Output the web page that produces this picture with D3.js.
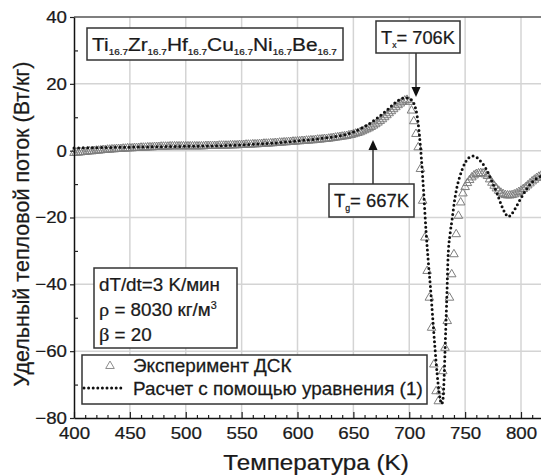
<!DOCTYPE html>
<html>
<head>
<meta charset="utf-8">
<script src="https://cdn.jsdelivr.net/npm/d3@7"></script>
<style>
  body { margin: 0; background: #fff; }
  svg { display: block; }
  text { font-family: "Liberation Sans", Arial, sans-serif; fill: #1a1a1a; stroke: #1a1a1a; stroke-width: 0.25px; }
</style>
</head>
<body>
<svg id="chart" width="541" height="475"></svg>
<script>
// Axis ticks
const xTicks = [400, 450, 500, 550, 600, 650, 700, 750, 800];
const xMinorTicks = d3.range(410, 820, 10).filter(t => t % 50 !== 0);
const yTicks = [-80, -60, -40, -20, 0, 20, 40];
const yMinorTicks = [-70, -50, -30, -10, 10, 30];

// DSC experiment: one reading every 2 K from 400 K
const expTemps = d3.range(400, 820, 2);
const expValues = [
  // 400 - 448
  -0.7, -0.6, -0.6, -0.5, -0.4, -0.4, -0.3, -0.2, -0.2, -0.1, 0.0, 0.0, 0.1,
  0.2, 0.2, 0.3, 0.3, 0.4, 0.4, 0.5, 0.5, 0.5, 0.6, 0.6, 0.7,
  // 450 - 498
  0.7, 0.7, 0.8, 0.8, 0.8, 0.9, 0.9, 0.9, 1.0, 1.0, 1.0, 1.1, 1.1,
  1.1, 1.2, 1.2, 1.2, 1.2, 1.3, 1.3, 1.3, 1.3, 1.3, 1.3, 1.3,
  // 500 - 548
  1.3, 1.3, 1.3, 1.3, 1.3, 1.3, 1.3, 1.3, 1.3, 1.4, 1.4, 1.4, 1.4,
  1.4, 1.4, 1.5, 1.5, 1.5, 1.5, 1.5, 1.6, 1.6, 1.6, 1.6, 1.7,
  // 550 - 598
  1.7, 1.7, 1.8, 1.8, 1.8, 1.9, 1.9, 1.9, 2.0, 2.0, 2.1, 2.1, 2.1,
  2.2, 2.2, 2.3, 2.3, 2.4, 2.4, 2.5, 2.5, 2.6, 2.6, 2.7, 2.7,
  // 600 - 648
  2.8, 2.8, 2.9, 2.9, 3.0, 3.0, 3.1, 3.1, 3.2, 3.3, 3.3, 3.4, 3.5,
  3.5, 3.6, 3.7, 3.8, 3.9, 4.0, 4.1, 4.2, 4.3, 4.4, 4.6, 4.7,
  // 650 - 698
  4.9, 5.1, 5.3, 5.5, 5.8, 6.1, 6.4, 6.7, 7.1, 7.5, 7.9, 8.4, 8.9,
  9.4, 10.0, 10.6, 11.2, 11.8, 12.4, 13.0, 13.6, 14.1, 14.6, 15.0, 15.2,
  // 700 - 748
  14.6, 12.0, 8.8, 5.0, 1.0, -5.5, -15.0, -26.0, -36.0, -44.0, -53.0, -64.0, -72.0,
  -75.0, -72.0, -66.0, -59.0, -51.0, -44.0, -37.0, -31.0, -25.0, -19.5, -15.5, -12.8,
  // 750 - 798
  -10.9, -9.7, -8.8, -8.0, -7.4, -7.0, -6.8, -6.7, -6.8, -7.1, -7.6, -8.6, -9.6,
  -10.5, -11.3, -12.0, -12.6, -13.0, -13.3, -13.4, -13.4, -13.3, -13.1, -12.8, -12.4,
  // 800 - 818
  -12.0, -11.5, -11.0, -10.4, -9.8, -9.2, -8.7, -8.2, -7.8, -7.5
];

// Model curve, equation (1)
const calcTemps = [
  400, 420, 440, 460, 480, 500, 520, 540, 560, 580,
  600, 620, 640, 650, 660, 670, 680, 687, 692, 696,
  700, 703, 705, 707, 709, 711, 713, 715, 717, 719,
  721, 723, 725, 727, 729, 730.3, 731.2, 732, 733, 733.8,
  734.7, 736.5, 738.3, 740.5, 742.7, 745, 747.2, 750, 753, 757,
  761, 765, 770, 774, 778.5, 782, 786, 788.5, 791, 795,
  799, 804, 810, 814, 818, 822
];
const calcValues = [
  0.8, 0.9, 1.0, 1.1, 1.2, 1.3, 1.4, 1.6, 1.9, 2.3,
  2.9, 3.6, 4.6, 5.6, 7.2, 9.4, 12.1, 14.2, 15.4, 15.8,
  15.6, 14.8, 13.4, 10.5, 5.0, -3.0, -13.0, -24.0, -33.0, -41.0,
  -50.0, -59.0, -67.0, -73.0, -75.8, -74.0, -68.0, -60.0, -50.0, -42.0,
  -32.0, -25.0, -20.7, -15.0, -10.9, -8.0, -5.8, -3.6, -2.2, -1.6,
  -2.2, -3.6, -6.2, -9.3, -12.7, -15.9, -18.8, -19.8, -19.2, -17.2,
  -14.8, -12.0, -9.4, -8.3, -7.6, -7.0
];

const FONT = '"Liberation Sans", Arial, sans-serif';
const svg = d3.select("#chart");
const plot = { left: 74, top: 17, bottom: 418 };

const x = d3.scaleLinear().domain([400, 820]).range([plot.left, plot.left + 420 * 1.1175]);
const y = d3.scaleLinear().domain([-80, 40]).range([plot.bottom, plot.top]);
const plotRight = x(820);

// Widen text horizontally by k around its own anchor point
function stretchX(sel, k) {
  sel.each(function () {
    const t = d3.select(this);
    const x0 = +t.attr("x") || 0;
    const tr = t.attr("transform") || "";
    t.attr("x", x0 / k).attr("transform", `${tr} scale(${k},1)`);
  });
}
// Stretch a text so that it spans the given width
function fitWidth(sel, width) {
  const len = sel.node().getComputedTextLength();
  stretchX(sel, width / len);
  return width / len;
}

// Grid
const grid = svg.append("g").attr("stroke", "#d4d4d4").attr("stroke-width", 1.5);
grid.selectAll("line.gx").data(xTicks.slice(1)).join("line")
  .attr("x1", d => x(d)).attr("x2", d => x(d))
  .attr("y1", plot.top).attr("y2", plot.bottom);
grid.selectAll("line.gy").data(yTicks.slice(1, -1)).join("line")
  .attr("x1", plot.left).attr("x2", plotRight)
  .attr("y1", d => y(d)).attr("y2", d => y(d));

// Top frame
svg.append("line").attr("x1", plot.left).attr("x2", plotRight)
  .attr("y1", plot.top).attr("y2", plot.top)
  .attr("stroke", "#555").attr("stroke-width", 1.5);

// Experimental points
const tri = d3.symbol().type(d3.symbolTriangle).size(32);
svg.append("g").selectAll("path").data(expTemps.map((t, i) => [t, expValues[i]])).join("path")
  .attr("d", tri)
  .attr("transform", d => `translate(${x(d[0])},${y(d[1])})`)
  .attr("fill", "none").attr("stroke", "#7e7e7e").attr("stroke-width", 1);

// Model curve
const line = d3.line().x(d => x(d[0])).y(d => y(d[1])).curve(d3.curveMonotoneX);
svg.append("path").datum(calcTemps.map((t, i) => [t, calcValues[i]]))
  .attr("d", line)
  .attr("fill", "none").attr("stroke", "#111").attr("stroke-width", 3)
  .attr("stroke-linecap", "round").attr("stroke-dasharray", "0,4.6");

// Axes
const xAxis = svg.append("g").attr("transform", `translate(0,${plot.bottom})`)
  .call(d3.axisBottom(x).tickValues(xTicks).tickSizeInner(-6).tickSizeOuter(0).tickPadding(9));
svg.append("g").attr("transform", `translate(0,${plot.bottom})`)
  .call(d3.axisBottom(x).tickValues(xMinorTicks).tickSize(-3).tickFormat(""))
  .call(g => g.select(".domain").remove());
const yAxis = svg.append("g").attr("transform", `translate(${plot.left},0)`)
  .call(d3.axisLeft(y).tickValues(yTicks).tickSizeInner(4).tickSizeOuter(0).tickPadding(3));
svg.append("g").attr("transform", `translate(${plot.left},0)`)
  .call(d3.axisLeft(y).tickValues(yMinorTicks).tickSize(-4).tickFormat(""))
  .call(g => g.select(".domain").remove());

svg.selectAll(".domain").attr("stroke", "#111").attr("stroke-width", 1.5);
svg.selectAll(".tick line").attr("stroke", "#222").attr("stroke-width", 1.2);
[xAxis, yAxis].forEach(a => {
  const t = a.selectAll("text").attr("font-size", 17).attr("fill", "#1a1a1a").attr("font-family", FONT);
  stretchX(t, 1.1);
});

// Axis titles
const xTitle = svg.append("text").attr("x", 316).attr("y", 470).attr("text-anchor", "middle")
  .attr("font-size", 22).text("Температура (K)");
stretchX(xTitle, 1.1);
svg.append("text").attr("transform", "translate(29,224) rotate(-90)").attr("text-anchor", "middle")
  .attr("font-size", 21.5).text("Удельный тепловой поток (Вт/кг)");

// Boxed labels with subscripts
function boxedLabel(bx, by, bw, bh, parts, fontSize, subSize, textWidth) {
  svg.append("rect").attr("x", bx).attr("y", by).attr("width", bw).attr("height", bh)
    .attr("fill", "#fff").attr("stroke", "#333").attr("stroke-width", 1.5);
  const t = svg.append("text").attr("x", bx + 5).attr("y", by + bh / 2 + fontSize * 0.36)
    .attr("font-size", fontSize);
  let shift = 0;
  parts.forEach(([s, sub]) => {
    t.append("tspan").attr("dy", -shift).text(s);
    shift = 0;
    if (sub) {
      t.append("tspan").attr("font-size", subSize).attr("dy", 4).text(sub);
      shift = 4;
    }
  });
  fitWidth(t, textWidth);
  return t;
}

const alloy = [["Ti", "16.7"], ["Zr", "16.7"], ["Hf", "16.7"], ["Cu", "16.7"], ["Ni", "16.7"], ["Be", "16.7"]];
boxedLabel(87, 28, 256, 32, alloy, 19, 9, 245);
boxedLabel(376, 21, 84, 32, [["T", "x"], ["= 706K", null]], 19, 9, 74);
boxedLabel(329, 184, 85, 33, [["T", "g"], ["= 667K", null]], 19, 9, 75);

// Arrows to the transition points
const arrows = [[416, 53, 97], [373, 184, 140]];
arrows.forEach(([ax, y0, y1]) => {
  const dir = Math.sign(y1 - y0);
  svg.append("line").attr("x1", ax).attr("x2", ax).attr("y1", y0).attr("y2", y1 - dir * 8)
    .attr("stroke", "#333").attr("stroke-width", 1.5);
  svg.append("path")
    .attr("d", `M${ax},${y1} L${ax - 4.5},${y1 - dir * 10} L${ax + 4.5},${y1 - dir * 10} Z`)
    .attr("fill", "#111");
});

// Measurement conditions
svg.append("rect").attr("x", 94).attr("y", 268).attr("width", 143).attr("height", 80)
  .attr("fill", "#fff").attr("stroke", "#333").attr("stroke-width", 1.5);
const rate = svg.append("text").attr("x", 99).attr("y", 291).attr("font-size", 17.5).text("dT/dt=3 K/мин");
const kCond = fitWidth(rate, 121);
const rho = svg.append("text").attr("x", 99).attr("y", 316).attr("font-size", 17.5);
rho.append("tspan").attr("font-family", '"Liberation Serif", serif').attr("font-size", 19).text("ρ");
rho.append("tspan").text(" = 8030 кг/м");
rho.append("tspan").attr("font-size", 10).attr("dy", -7).text("3");
stretchX(rho, kCond);
const beta = svg.append("text").attr("x", 99).attr("y", 341).attr("font-size", 17.5);
beta.append("tspan").attr("font-family", '"Liberation Serif", serif').attr("font-size", 19).text("β");
beta.append("tspan").text(" = 20");
stretchX(beta, kCond);

// Legend
svg.append("rect").attr("x", 82).attr("y", 355).attr("width", 345).attr("height", 49)
  .attr("fill", "#fff").attr("stroke", "#333").attr("stroke-width", 1.5);
svg.append("path").attr("d", tri).attr("transform", "translate(110,366)")
  .attr("fill", "none").attr("stroke", "#8c8c8c").attr("stroke-width", 1);
const leg1 = svg.append("text").attr("x", 133).attr("y", 372).attr("font-size", 18).text("Эксперимент ДСК");
svg.append("line").attr("x1", 84).attr("x2", 122).attr("y1", 388).attr("y2", 388)
  .attr("stroke", "#111").attr("stroke-width", 3).attr("stroke-linecap", "round")
  .attr("stroke-dasharray", "0,4.6");
const leg2 = svg.append("text").attr("x", 133).attr("y", 395.5).attr("font-size", 18).text("Расчет с помощью уравнения (1)");
const kLeg = fitWidth(leg2, 290);
stretchX(leg1, kLeg);
</script>
</body>
</html>
